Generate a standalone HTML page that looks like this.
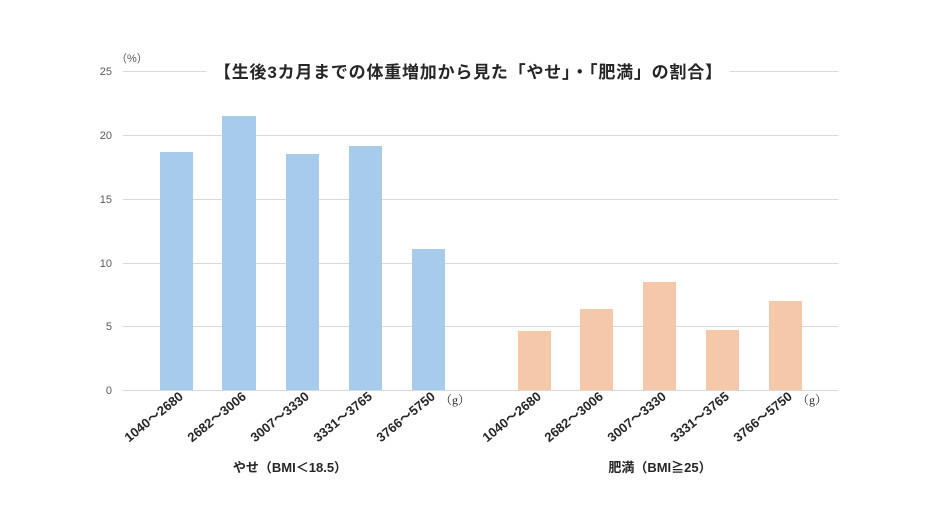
<!DOCTYPE html>
<html><head><meta charset="utf-8"><style>
html,body{margin:0;padding:0;background:#fff;}
svg{display:block;font-family:"Liberation Sans","Noto Sans CJK JP",sans-serif;}
</style></head><body>
<svg width="930" height="523" viewBox="0 0 930 523" xmlns="http://www.w3.org/2000/svg">
<rect width="930" height="523" fill="#fff"/>
<g stroke="#d9d9d9" stroke-width="1">
<line x1="123" y1="71.5" x2="838" y2="71.5"/>
<line x1="123" y1="135.5" x2="838" y2="135.5"/>
<line x1="123" y1="199.5" x2="838" y2="199.5"/>
<line x1="123" y1="263.5" x2="838" y2="263.5"/>
<line x1="123" y1="326.5" x2="838" y2="326.5"/>
<line x1="123" y1="390.5" x2="838" y2="390.5"/>
</g>
<g font-size="11" fill="#595959" text-anchor="end">
<text x="112" y="75">25</text><text x="112" y="139">20</text><text x="112" y="203">15</text>
<text x="112" y="267">10</text><text x="112" y="330">5</text><text x="112" y="394">0</text>
</g>
<text x="116" y="62" font-size="11" fill="#595959">（%）</text>
<rect x="206" y="60" width="524" height="24" fill="#fff"/>
<text x="468" y="78" font-size="17" font-weight="bold" fill="#262626" text-anchor="middle" textLength="508">【生後3カ月までの体重増加から見た「やせ」・「肥満」の割合】</text>
<g fill="#a7cbea">
<rect x="160" y="152" width="33" height="238"/>
<rect x="222" y="116" width="34" height="274"/>
<rect x="286" y="154" width="33" height="236"/>
<rect x="349" y="146" width="33" height="244"/>
<rect x="412" y="249" width="33" height="141"/>
</g>
<g fill="#f5c8aa">
<rect x="518" y="331" width="33" height="59"/>
<rect x="580" y="309" width="33" height="81"/>
<rect x="643" y="282" width="33" height="108"/>
<rect x="706" y="330" width="33" height="60"/>
<rect x="769" y="301" width="33" height="89"/>
</g>
<g font-size="13" fill="#262626" font-weight="bold" text-anchor="end">
<text transform="translate(184,398) rotate(-39)">1040～2680</text>
<text transform="translate(247,398) rotate(-39)">2682～3006</text>
<text transform="translate(310,398) rotate(-39)">3007～3330</text>
<text transform="translate(373,398) rotate(-39)">3331～3765</text>
<text transform="translate(436,398) rotate(-39)">3766～5750</text>
<text transform="translate(542,398) rotate(-39)">1040～2680</text>
<text transform="translate(604,398) rotate(-39)">2682～3006</text>
<text transform="translate(667,398) rotate(-39)">3007～3330</text>
<text transform="translate(730,398) rotate(-39)">3331～3765</text>
<text transform="translate(793,398) rotate(-39)">3766～5750</text>
</g>
<g font-size="12" fill="#262626" font-family="'Liberation Serif','Noto Serif CJK SC',serif">
<text x="440" y="404">（g）</text>
<text x="797" y="404">（g）</text>
</g>
<g font-size="13" fill="#262626" font-weight="bold" text-anchor="middle">
<text x="290" y="472">やせ（BMI＜18.5）</text>
<text x="660" y="472">肥満（BMI≧25）</text>
</g>
</svg>
</body></html>
